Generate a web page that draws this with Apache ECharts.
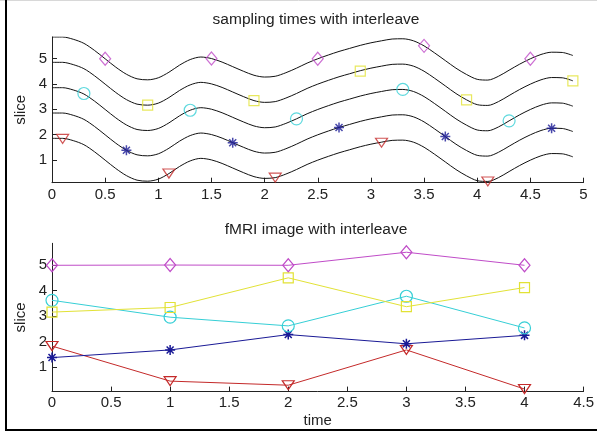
<!DOCTYPE html>
<html>
<head>
<meta charset="utf-8">
<script src="https://cdn.jsdelivr.net/npm/echarts@6/dist/echarts.min.js"></script>
<style>
  html, body { margin: 0; padding: 0; background: #fff; }
  #chart { width: 597px; height: 436px; }
</style>
</head>
<body>
<div id="chart"></div>
<script>
// Shape of one slice's signal, read every 0.1 s from t = 0 to 4.9 (slice 1 curve)
const waveStep = 0.1;
const wave = [
  1.85, 1.85, 1.76, 1.60, 1.32, 0.99, 0.66, 0.38, 0.20, 0.16,
  0.24, 0.46, 0.74, 0.96, 1.06, 1.00, 0.86, 0.68, 0.50, 0.34,
  0.27, 0.30, 0.44, 0.62, 0.82, 0.99, 1.14, 1.28, 1.40, 1.52,
  1.62, 1.70, 1.77, 1.78, 1.70, 1.50, 1.22, 0.92, 0.62, 0.37,
  0.18, 0.15, 0.30, 0.54, 0.78, 0.99, 1.16, 1.25, 1.24, 1.12
];
const slices = [1, 2, 3, 4, 5];

// acquisition offset of each slice inside a volume (interleaved 1,3,5,2,4)
const sliceOffset = { 1: 0.1, 2: 0.7, 3: 0.3, 4: 0.9, 5: 0.5 };

// volume index (time axis of lower plot)
const volumes = [0, 1, 2, 3, 4];

// sampled values per slice
const slice1Vals = [1.83, 0.46, 0.30, 1.68, 0.15];
const slice2Vals = [1.38, 1.68, 2.28, 1.92, 2.25];
const slice3Vals = [3.62, 2.96, 2.62, 3.78, 2.54];
const slice4Vals = [3.16, 3.34, 4.50, 3.37, 4.12];
const slice5Vals = [4.99, 5.00, 4.99, 5.50, 4.99];

const xTicksTop = [0, 0.5, 1, 1.5, 2, 2.5, 3, 3.5, 4, 4.5, 5];
const xTicksBottom = [0, 0.5, 1, 1.5, 2, 2.5, 3, 3.5, 4, 4.5];
const yTicks = [1, 2, 3, 4, 5];

const STAR = 'path://M0,5 L10,5 M5,0 L5,10 M1.5,1.5 L8.5,8.5 M8.5,1.5 L1.5,8.5';
const TRI_DOWN = 'path://M0,0 L10,0 L5,8 Z';

const sliceStyle = {
  1: { vals: slice1Vals, color: '#c42a2a', symbol: TRI_DOWN, size: [12, 9] },
  2: { vals: slice2Vals, color: '#1a1a96', symbol: STAR, size: 10 },
  3: { vals: slice3Vals, color: '#36cfd6', symbol: 'circle', size: 12 },
  4: { vals: slice4Vals, color: '#e2e236', symbol: 'rect', size: 10 },
  5: { vals: slice5Vals, color: '#c04cc8', symbol: 'diamond', size: [11, 13] },
};

const FONT = 'Liberation Sans, Arial, sans-serif';
const axisCommon = {
  axisLine: { lineStyle: { color: '#222', width: 1 } },
  axisTick: { inside: true, length: 5, lineStyle: { color: '#222' } },
  splitLine: { show: false },
  axisLabel: { color: '#222', fontSize: 15, fontFamily: FONT },
};

const series = [];
slices.forEach(s => {
  series.push({
    type: 'line',
    xAxisIndex: 0, yAxisIndex: 0,
    data: wave.map((v, i) => [i * waveStep, v + s - 1]),
    showSymbol: false,
    smooth: 0.3,
    lineStyle: { color: '#111', width: 1 },
    z: 2,
    silent: true,
  });
});
slices.forEach(s => {
  const st = sliceStyle[s];
  series.push({
    type: 'scatter',
    xAxisIndex: 0, yAxisIndex: 0,
    data: volumes.map((t, i) => [t + sliceOffset[s], st.vals[i]]),
    symbol: st.symbol,
    symbolSize: st.size,
    itemStyle: { color: 'rgba(0,0,0,0)', borderColor: st.color, borderWidth: s === 2 ? 1.5 : 1.2 },
    z: 3,
  });
  series.push({
    type: 'line',
    xAxisIndex: 1, yAxisIndex: 1,
    data: volumes.map((t, i) => [t, st.vals[i]]),
    symbol: st.symbol,
    symbolSize: st.size,
    showAllSymbol: true,
    lineStyle: { color: st.color, width: 1 },
    itemStyle: { color: 'rgba(0,0,0,0)', borderColor: st.color, borderWidth: s === 2 ? 1.5 : 1.2 },
    z: 3,
  });
});

const chart = echarts.init(document.getElementById('chart'));
chart.setOption({
  animation: false,
  backgroundColor: '#fff',
  title: [
    { text: 'sampling times with interleave', left: 316, top: 12, textAlign: 'center', padding: 0,
      textStyle: { fontSize: 15.5, fontWeight: 'normal', color: '#222', fontFamily: FONT } },
    { text: 'fMRI image with interleave', left: 316, top: 222, textAlign: 'center', padding: 0,
      textStyle: { fontSize: 15.5, fontWeight: 'normal', color: '#222', fontFamily: FONT } },
  ],
  grid: [
    { left: 52, top: 37, width: 531.5, height: 145.7 },
    { left: 52, top: 243.3, width: 532.5, height: 148.3 },
  ],
  xAxis: [
    Object.assign({}, axisCommon, {
      type: 'value', gridIndex: 0, min: xTicksTop[0], max: xTicksTop[xTicksTop.length - 1], interval: 0.5,
      axisLabel: Object.assign({}, axisCommon.axisLabel, { margin: 5, customValues: xTicksTop }),
      axisTick: Object.assign({}, axisCommon.axisTick, { customValues: xTicksTop }),
    }),
    Object.assign({}, axisCommon, {
      type: 'value', gridIndex: 1, min: xTicksBottom[0], max: xTicksBottom[xTicksBottom.length - 1], interval: 0.5,
      name: 'time', nameLocation: 'middle', nameGap: 22, nameMoveOverlap: false,
      nameTextStyle: { fontSize: 15, color: '#222', fontFamily: FONT },
      axisLabel: Object.assign({}, axisCommon.axisLabel, { margin: 4, customValues: xTicksBottom }),
      axisTick: Object.assign({}, axisCommon.axisTick, { customValues: xTicksBottom }),
    }),
  ],
  yAxis: [
    Object.assign({}, axisCommon, {
      type: 'value', gridIndex: 0, min: 0.1, max: 5.85,
      name: 'slice', nameLocation: 'middle', nameRotate: 90, nameGap: 24, nameMoveOverlap: false,
      nameTextStyle: { fontSize: 15, color: '#222', fontFamily: FONT },
      axisLabel: Object.assign({}, axisCommon.axisLabel, { margin: 5, customValues: yTicks }),
      axisTick: Object.assign({}, axisCommon.axisTick, { customValues: yTicks }),
    }),
    Object.assign({}, axisCommon, {
      type: 'value', gridIndex: 1, min: 0.05, max: 5.85,
      name: 'slice', nameLocation: 'middle', nameRotate: 90, nameGap: 24, nameMoveOverlap: false,
      nameTextStyle: { fontSize: 15, color: '#222', fontFamily: FONT },
      axisLabel: Object.assign({}, axisCommon.axisLabel, { margin: 5, customValues: yTicks }),
      axisTick: Object.assign({}, axisCommon.axisTick, { customValues: yTicks }),
    }),
  ],
  graphic: [
    { type: 'line', shape: { x1: 0, y1: 0.5, x2: 597, y2: 0.5 }, style: { stroke: '#d8d8d8', lineWidth: 1 } },
    { type: 'line', shape: { x1: 6, y1: 0, x2: 6, y2: 431 }, style: { stroke: '#000', lineWidth: 2 } },
    { type: 'line', shape: { x1: 5, y1: 430, x2: 597, y2: 430 }, style: { stroke: '#000', lineWidth: 2 } },
  ],
  series: series,
});
</script>
</body>
</html>
